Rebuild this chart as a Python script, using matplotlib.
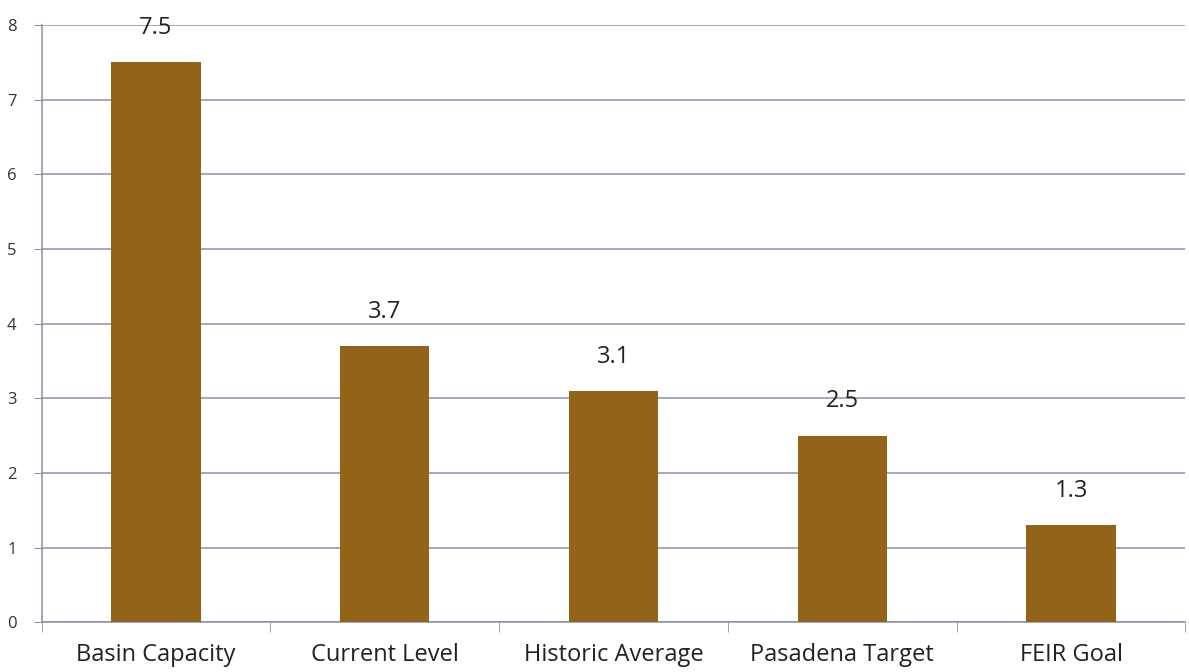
import numpy as np
import matplotlib.pyplot as plt
from matplotlib.ticker import FixedLocator

# values
categories = ['Basin Capacity', 'Current Level', 'Historic Average', 'Pasadena Target', 'FEIR Goal']
values = [7.5, 3.7, 3.1, 2.5, 1.3]
value_labels = ['7.5', '3.7', '3.1', '2.5', '1.3']
yticks = [0, 1, 2, 3, 4, 5, 6, 7, 8]

plt.rcParams['font.family'] = ['Open Sans', 'DejaVu Sans']

fig = plt.figure(figsize=(11.89, 6.72), dpi=100)
ax = fig.add_axes([0.035, 0.074, 0.962, 0.889])

x = np.arange(len(categories))
bars = ax.bar(x, values, width=0.39, color='#94631a', zorder=3)

for b, lab in zip(bars, value_labels):
    ax.annotate(lab, (b.get_x() + b.get_width() / 2, b.get_height()),
                xytext=(0, 16), textcoords='offset points', ha='center', va='bottom',
                fontsize=17, color='#222222', zorder=4)

ax.set_xlim(-0.5, len(categories) - 0.5)
ax.set_ylim(0, 8)
ax.set_yticks(yticks)
ax.set_yticklabels([str(t) for t in yticks], fontsize=12, color='#333333')
ax.set_xticks(x)
ax.set_xticklabels(categories, fontsize=17, color='#222222')
ax.tick_params(axis='x', which='major', length=0, pad=15)
ax.xaxis.set_minor_locator(FixedLocator(np.arange(-0.5, len(categories), 1.0)))
ax.tick_params(axis='x', which='minor', length=7, color='#8a8fa8', direction='out')
ax.tick_params(axis='y', length=6, color='#8a8fa8', pad=12)

ax.grid(axis='y', color='#8a8fa8', linewidth=1.1, zorder=0)
for s in ['top', 'right']:
    ax.spines[s].set_visible(False)
ax.spines['left'].set_color('#8a8fa8')
ax.spines['bottom'].set_color('#8a8fa8')
ax.spines['left'].set_linewidth(1.1)
ax.spines['bottom'].set_linewidth(1.1)

fig.savefig('out.png', dpi=100, facecolor='white')
